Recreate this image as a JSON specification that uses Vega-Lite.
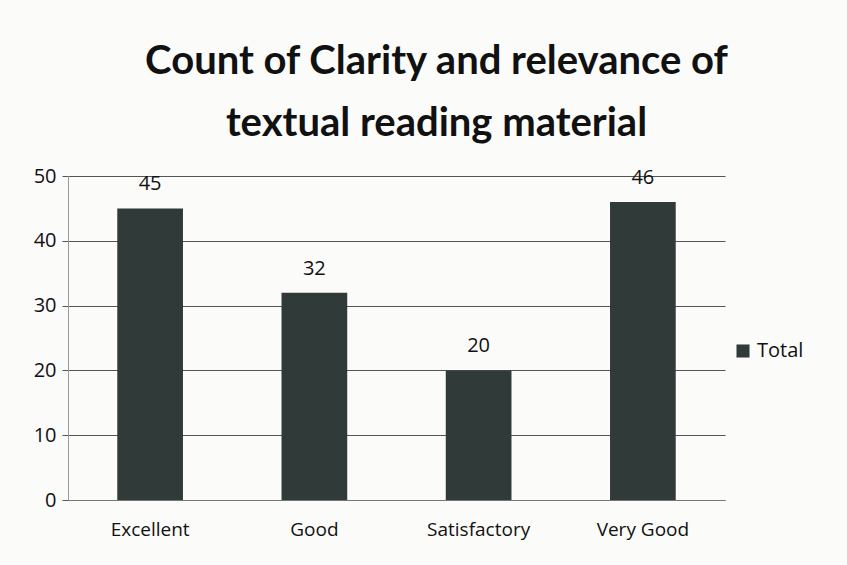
{
  "$schema": "https://vega.github.io/schema/vega-lite/v6.json",
  "width": 657,
  "height": 324,
  "autosize": {"type": "none"},
  "padding": {"left": 68, "top": 176, "right": 122, "bottom": 65},
  "background": "#fbfbfa",
  "title": {
    "text": ["Count of Clarity and relevance of", "textual reading material"],
    "font": "Lato",
    "fontSize": 40,
    "fontWeight": "bold",
    "color": "#111111",
    "lineHeight": 62,
    "anchor": "middle",
    "dx": 40,
    "offset": 22
  },
  "config": {
    "view": {"stroke": null},
    "font": "Open Sans"
  },
  "data": {
    "values": [
      {"rating": "Excellent", "count": 45, "series": "Total"},
      {"rating": "Good", "count": 32, "series": "Total"},
      {"rating": "Satisfactory", "count": 20, "series": "Total"},
      {"rating": "Very Good", "count": 46, "series": "Total"}
    ]
  },
  "encoding": {
    "x": {
      "field": "rating",
      "type": "nominal",
      "sort": null,
      "scale": {"paddingInner": 0.6, "paddingOuter": 0.3},
      "axis": {
        "title": null,
        "labelAngle": 0,
        "labelFont": "Open Sans",
        "labelFontSize": 19,
        "labelColor": "#111111",
        "labelPadding": 20,
        "domainColor": "#777777",
        "ticks": false,
        "grid": false
      }
    },
    "y": {
      "field": "count",
      "type": "quantitative",
      "scale": {"domain": [0, 50]},
      "axis": {
        "title": null,
        "values": [0, 10, 20, 30, 40, 50],
        "labelFont": "Open Sans",
        "labelFontSize": 20,
        "labelColor": "#111111",
        "labelPadding": 6,
        "domain": true,
        "domainColor": "#999999",
        "tickColor": "#555555",
        "tickSize": 6,
        "gridColor": "#555555",
        "gridWidth": 1
      }
    }
  },
  "layer": [
    {
      "mark": {"type": "bar", "color": "#2f3a39"},
      "encoding": {
        "color": {
          "field": "series",
          "type": "nominal",
          "scale": {"range": ["#2f3a39"]},
          "legend": {
            "title": null,
            "orient": "none",
            "legendX": 665,
            "legendY": 165,
            "symbolType": "square",
            "symbolSize": 170,
            "symbolFillColor": "#111111",
            "labelFont": "Open Sans",
            "labelFontSize": 20,
            "labelColor": "#111111"
          }
        }
      }
    },
    {
      "mark": {"type": "text", "baseline": "bottom", "dy": -14, "font": "Open Sans", "fontSize": 20, "color": "#111111"},
      "encoding": {"text": {"field": "count", "type": "quantitative"}}
    }
  ]
}
